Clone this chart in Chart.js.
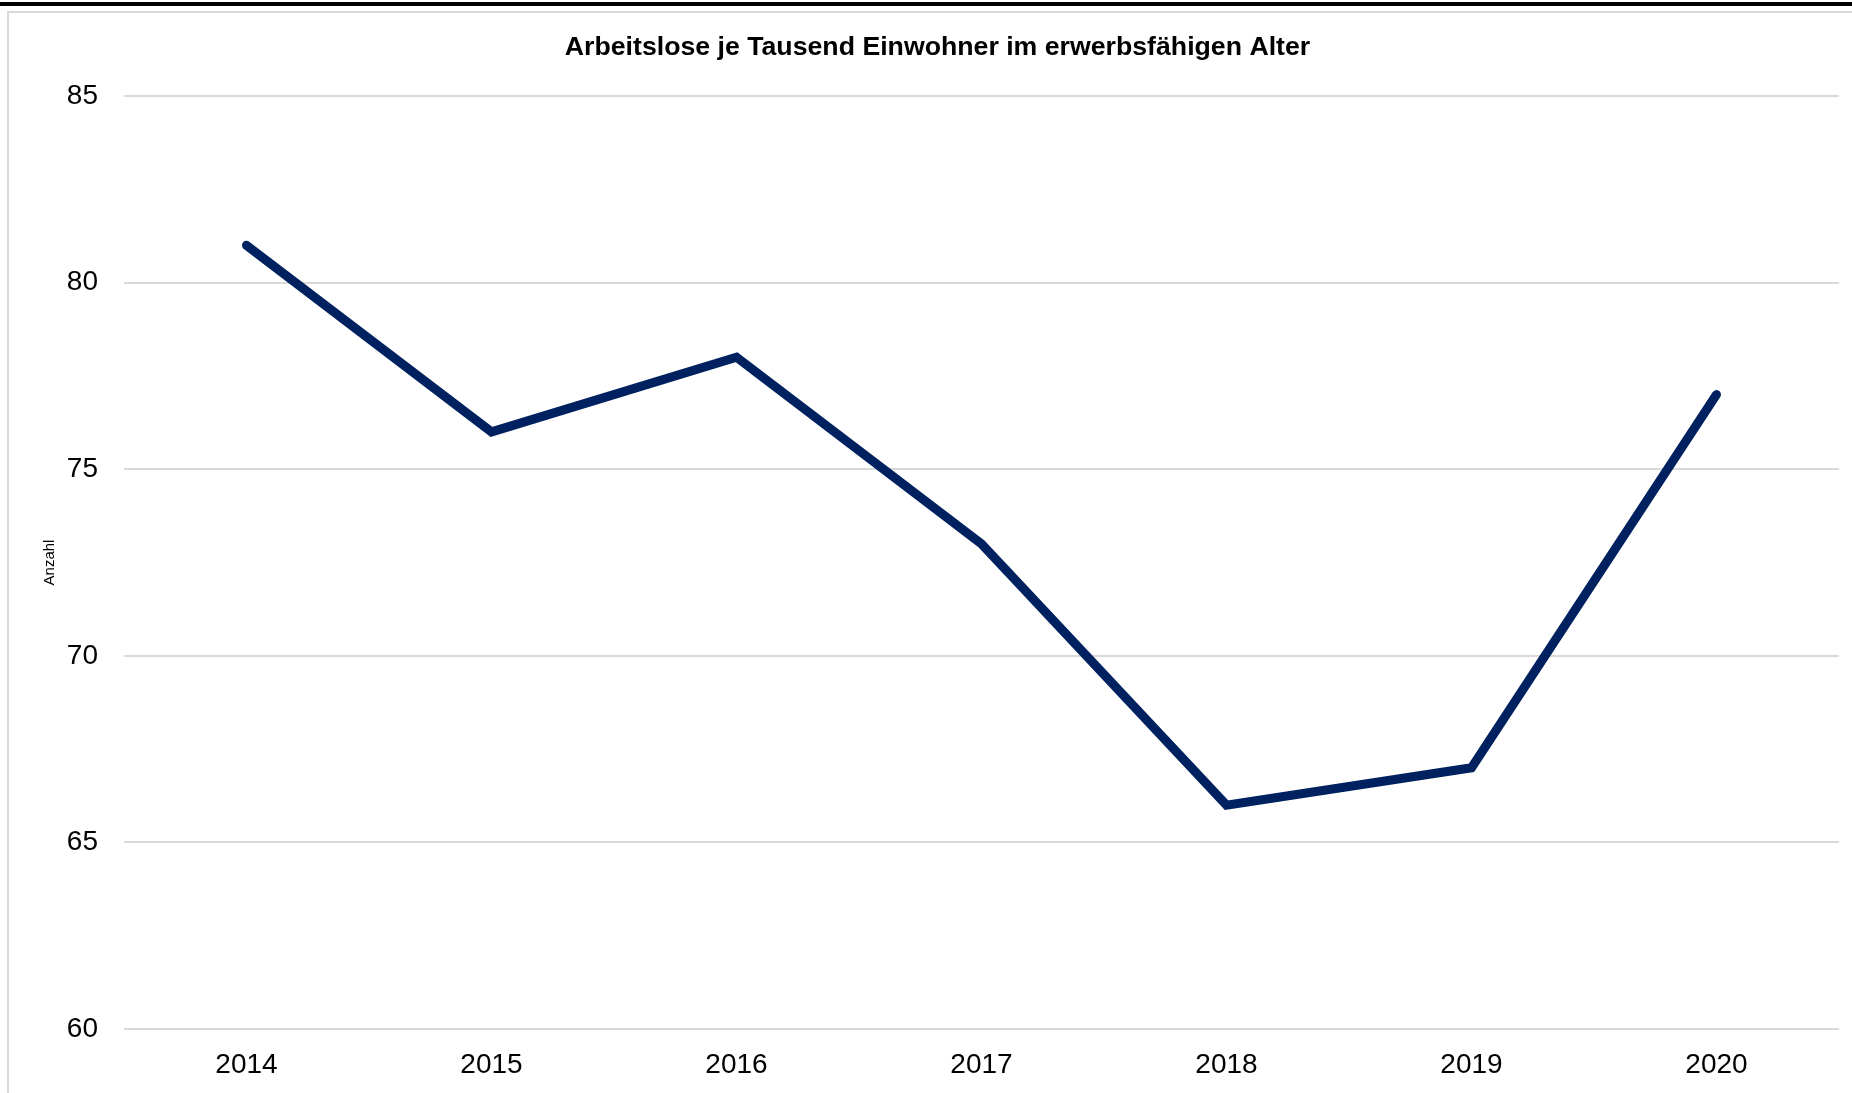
<!DOCTYPE html>
<html lang="de">
<head>
<meta charset="utf-8">
<title>Arbeitslose je Tausend Einwohner</title>
<script src="https://cdn.jsdelivr.net/npm/chart.js@4.4.1/dist/chart.umd.min.js"></script>
<style>
    html, body { margin: 0; padding: 0; background: #fff; overflow: hidden; }
    #topbar { position: absolute; left: 0; top: 2px; width: 1852px; height: 4px; background: #000; }
    #frame { position: absolute; left: 7px; top: 11px; width: 1852px; height: 1100px; border: 2px solid #d9d9d9; box-sizing: border-box; }
    #wrap { position: absolute; left: 0; top: 0; width: 1852px; height: 1093px; }
</style>
</head>
<body>
<div id="topbar"></div>
<div id="frame"></div>
<div id="wrap"><canvas id="chart" width="1852" height="1093"></canvas></div>
<script>
// Daten
const jahre = ['2014', '2015', '2016', '2017', '2018', '2019', '2020'];
const arbeitslose = [81, 76, 78, 73, 66, 67, 77];
const yTicks = [60, 65, 70, 75, 80, 85];

const fontFamily = '"Liberation Sans", Arial, sans-serif';

const ctx = document.getElementById('chart').getContext('2d');
new Chart(ctx, {
    type: 'line',
    data: {
        labels: jahre,
        datasets: [{
            label: 'Arbeitslose je Tausend Einwohner',
            data: arbeitslose,
            borderColor: '#00215f',
            borderWidth: 9,
            borderCapStyle: 'round',
            borderJoinStyle: 'miter',
            tension: 0,
            pointRadius: 0,
            fill: false
        }]
    },
    options: {
        responsive: false,
        animation: false,
        layout: { padding: { left: 36, right: 13, top: 0, bottom: 0 } },
        scales: {
            x: {
                offset: true,
                grid: { display: false },
                border: { display: false },
                ticks: {
                    color: '#000',
                    padding: 11,
                    maxRotation: 0,
                    font: { family: fontFamily, size: 28 }
                },
                afterFit: (s) => { s.height = 64; }
            },
            y: {
                min: 60,
                max: 85,
                afterBuildTicks: (s) => { s.ticks = yTicks.map(v => ({ value: v })); },
                grid: { color: '#d9d9d9', lineWidth: 2, drawTicks: false },
                border: { display: false },
                ticks: {
                    color: '#000',
                    padding: 26,
                    font: { family: fontFamily, size: 28 }
                },
                title: {
                    display: true,
                    text: 'Anzahl',
                    color: '#000',
                    padding: { top: 5, bottom: 0 },
                    font: { family: fontFamily, size: 15 }
                },
                afterFit: (s) => { s.width = 88; }
            }
        },
        plugins: {
            legend: { display: false },
            tooltip: { enabled: false },
            title: {
                display: true,
                text: 'Arbeitslose je Tausend Einwohner im erwerbsfähigen Alter',
                color: '#000',
                font: { family: fontFamily, size: 26.7, weight: 'bold' },
                padding: { top: 32, bottom: 32 }
            }
        }
    }
});
</script>
</body>
</html>
